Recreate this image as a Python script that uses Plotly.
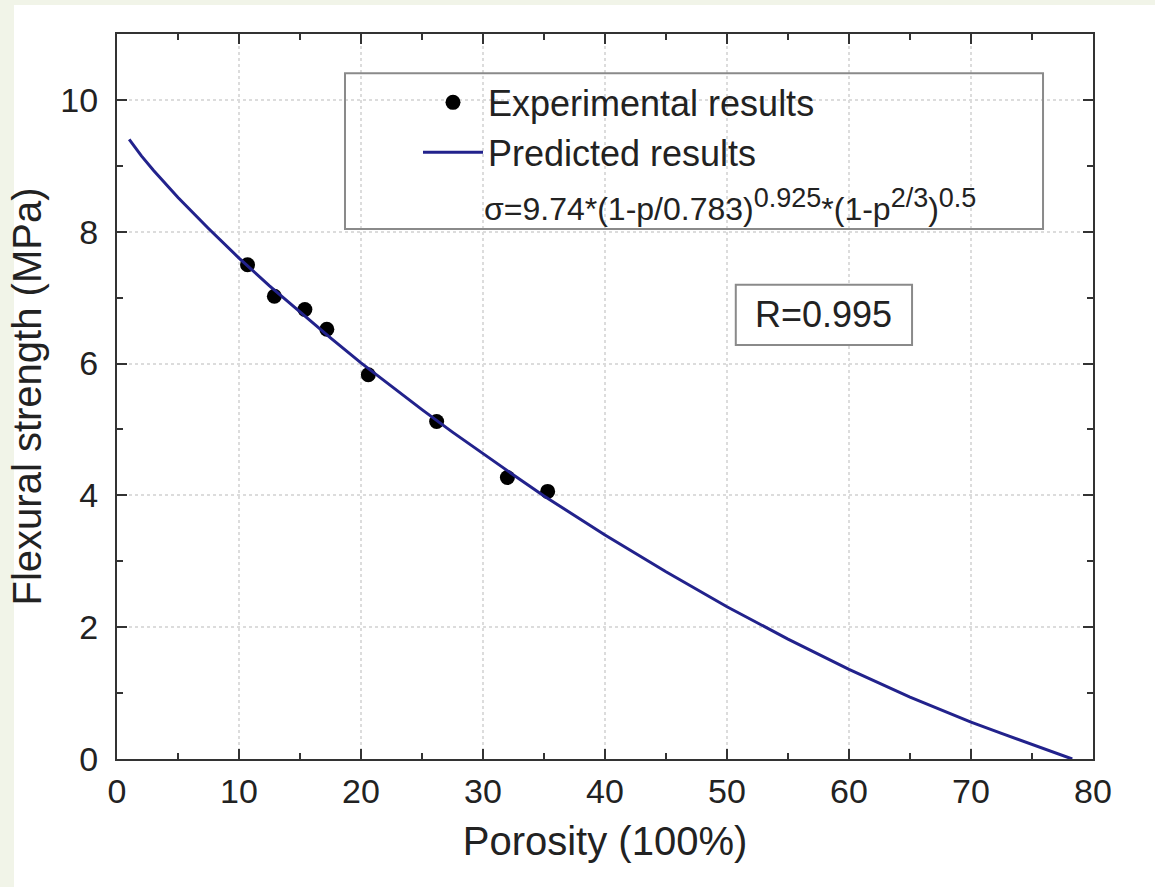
import plotly.graph_objects as go

porosity_exp = [10.7, 12.9, 15.4, 17.2, 20.6, 26.2, 32.0, 35.3]
strength_exp = [7.50, 7.02, 6.82, 6.52, 5.83, 5.12, 4.27, 4.06]

# Predicted curve
porosity_curve = [1, 2, 3, 4, 5, 7.5, 10, 12.5, 15, 17.5, 20, 22.5, 25, 27.5, 30,
                  32.5, 35, 37.5, 40, 45, 50, 55, 60, 65, 70, 72.5, 75, 77, 78.3]
strength_curve = [9.40, 9.15, 8.93, 8.72, 8.52, 8.05, 7.60, 7.18, 6.78, 6.39, 6.01,
                  5.65, 5.30, 4.96, 4.63, 4.31, 3.99, 3.69, 3.40, 2.84, 2.31, 1.82,
                  1.36, 0.94, 0.56, 0.39, 0.22, 0.09, 0.0]

x_ticks = [0, 10, 20, 30, 40, 50, 60, 70, 80]
y_ticks = [0, 2, 4, 6, 8, 10]

FONT = "Liberation Sans, Arial, sans-serif"
TXT = "#222222"
AX = "#333333"

fig = go.Figure()
fig.add_trace(go.Scatter(
    x=porosity_exp, y=strength_exp, mode="markers", name="Experimental results",
    marker=dict(color="black", size=15)))
fig.add_trace(go.Scatter(
    x=porosity_curve, y=strength_curve, mode="lines", name="Predicted results",
    line=dict(color="#22228c", width=3)))

axis_common = dict(
    showline=True, linecolor=AX, linewidth=2, mirror="ticks",
    ticks="inside", ticklen=10, tickwidth=2, tickcolor=AX,
    showgrid=True, gridcolor="#dcdcdc", griddash="dot", gridwidth=1.5,
    zeroline=False,
    tickfont=dict(family=FONT, size=34, color=TXT),
)

fig.update_xaxes(
    range=[0, 80], tickvals=x_ticks, ticktext=[str(v) for v in x_ticks],
    minor=dict(ticks="inside", dtick=5, tick0=0, ticklen=6, tickwidth=2, tickcolor=AX, showgrid=False),
    title=dict(text="Porosity (100%)", font=dict(family=FONT, size=40, color=TXT), standoff=18),
    ticklabelstandoff=1,
    **axis_common)
fig.update_yaxes(
    range=[0, 11], tickvals=y_ticks, ticktext=[str(v) for v in y_ticks],
    minor=dict(ticks="inside", dtick=1, tick0=0, ticklen=6, tickwidth=2, tickcolor=AX, showgrid=False),
    title=dict(text="Flexural strength (MPa)", font=dict(family=FONT, size=40, color=TXT), standoff=6),
    ticklabelstandoff=10,
    **axis_common)

sup = "<sup><span style='font-size:27px'>{}</span></sup>"
formula = ("σ=9.74*(1-p/0.783)" + sup.format("0.925") + "*(1-p" + sup.format("2/3") + ")"
           + sup.format("0.5"))

fig.update_layout(
    width=1155, height=887,
    margin=dict(l=117, r=62, t=34, b=128),
    paper_bgcolor="#f1f4e8", plot_bgcolor="white",
    showlegend=True,
    legend=dict(x=0.3084, xanchor="left", y=0.947, yanchor="top",
                bgcolor="rgba(0,0,0,0)", borderwidth=0, itemwidth=60,
                font=dict(family=FONT, size=36, color=TXT)),
    shapes=[
        # white page area (the original figure sits on a light strip)
        dict(type="rect", xref="paper", yref="paper", x0=-0.1055, x1=1.07, y0=-0.2, y1=1.04,
             fillcolor="white", line=dict(width=0), layer="below"),
        # legend box
        dict(type="rect", xref="paper", yref="paper", x0=0.2336, x1=0.9488, y0=0.731, y1=0.946,
             fillcolor="rgba(0,0,0,0)", line=dict(color="#8a8a8a", width=2)),
        # R box
        dict(type="rect", xref="paper", yref="paper", x0=0.634, x1=0.8146, y0=0.571, y1=0.654,
             fillcolor="white", line=dict(color="#8a8a8a", width=2)),
    ],
    annotations=[
        dict(xref="paper", yref="paper", x=0.374, y=0.764, xanchor="left", yanchor="middle",
             showarrow=False, text=formula,
             font=dict(family=FONT, size=32, color=TXT)),
        dict(xref="paper", yref="paper", x=0.7243, y=0.6125, xanchor="center", yanchor="middle",
             showarrow=False, text="R=0.995",
             font=dict(family=FONT, size=36, color=TXT)),
    ],
)

fig.write_html("out.html", post_script="document.body.style.margin='0px';",
               config={"displayModeBar": False})
